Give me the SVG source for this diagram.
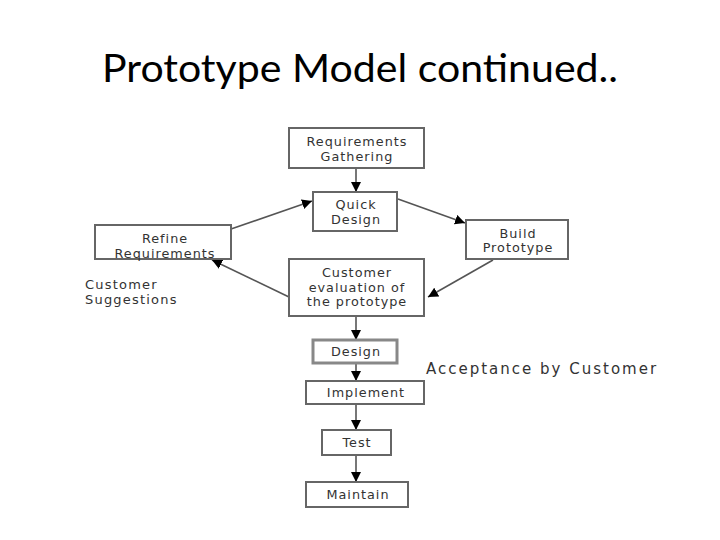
<svg xmlns="http://www.w3.org/2000/svg" width="720" height="540" viewBox="0 0 720 540">
<defs>
<marker id="ah" viewBox="0 0 10 10" refX="10" refY="5" markerWidth="10" markerHeight="10" markerUnits="userSpaceOnUse" orient="auto">
<path d="M0,0 L10,5 L0,10 z" fill="#000"/>
</marker>
<style>
.box{fill:#fff;stroke:#666;stroke-width:2}
.t{font-family:"DejaVu Sans",Verdana,sans-serif;font-size:12.8px;fill:#333;text-anchor:middle;letter-spacing:1px}
.lbl{font-family:"DejaVu Sans",Verdana,sans-serif;fill:#333}
.c{stroke:#555;stroke-width:1.6;fill:none;marker-end:url(#ah)}
</style>
</defs>
<rect width="720" height="540" fill="#fff"/>
<text x="360" y="82" font-family="Lato,'Open Sans',sans-serif" font-size="39" text-anchor="middle" fill="#000" textLength="516" lengthAdjust="spacingAndGlyphs">Prototype Model continued..</text>

<g id="connectors">
<line class="c" x1="356" y1="168" x2="356" y2="192"/>
<line class="c" x1="231" y1="229" x2="312" y2="201"/>
<line class="c" x1="398" y1="199" x2="465" y2="223"/>
<line class="c" x1="493" y1="260" x2="428" y2="297"/>
<line class="c" x1="289" y1="297" x2="212" y2="260"/>
<line class="c" x1="356" y1="316" x2="356" y2="340"/>
<line class="c" x1="356" y1="363" x2="356" y2="381"/>
<line class="c" x1="356" y1="404" x2="356" y2="430"/>
<line class="c" x1="356" y1="455" x2="356" y2="482"/>
</g>

<g id="req">
<rect class="box" x="289" y="128" width="135" height="40"/>
<text class="t" x="357" y="146">Requirements</text>
<text class="t" x="357" y="161">Gathering</text>
</g>
<g id="quick">
<rect class="box" x="313" y="192" width="84" height="39"/>
<text class="t" x="356" y="209">Quick</text>
<text class="t" x="356" y="224">Design</text>
</g>
<g id="refine">
<rect class="box" x="95" y="225" width="136" height="34"/>
<text class="t" x="165" y="243">Refine</text>
<text class="t" x="165" y="258">Requirements</text>
</g>
<g id="build">
<rect class="box" x="466" y="220" width="102" height="39"/>
<text class="t" x="518" y="238">Build</text>
<text class="t" x="518" y="252">Prototype</text>
</g>
<g id="evaluation">
<rect class="box" x="289" y="259" width="135" height="57"/>
<text class="t" x="357" y="277">Customer</text>
<text class="t" x="357" y="292">evaluation of</text>
<text class="t" x="357" y="306">the prototype</text>
</g>
<g id="design">
<rect x="313" y="340" width="84" height="23" fill="#fff" stroke="#888" stroke-width="3"/>
<text class="t" x="356" y="356">Design</text>
</g>
<g id="implement">
<rect class="box" x="306" y="381" width="118" height="23"/>
<text class="t" x="366" y="397">Implement</text>
</g>
<g id="test">
<rect class="box" x="322" y="430" width="69" height="25"/>
<text class="t" x="357" y="447">Test</text>
</g>
<g id="maintain">
<rect class="box" x="306" y="482" width="102" height="25"/>
<text class="t" x="358" y="499">Maintain</text>
</g>
<text class="lbl" x="85" y="289" font-size="13" letter-spacing="1.2">Customer</text>
<text class="lbl" x="85" y="304" font-size="13" letter-spacing="1.2">Suggestions</text>
<text class="lbl" x="426" y="374" font-size="15" letter-spacing="2">Acceptance by Customer</text>
</svg>
